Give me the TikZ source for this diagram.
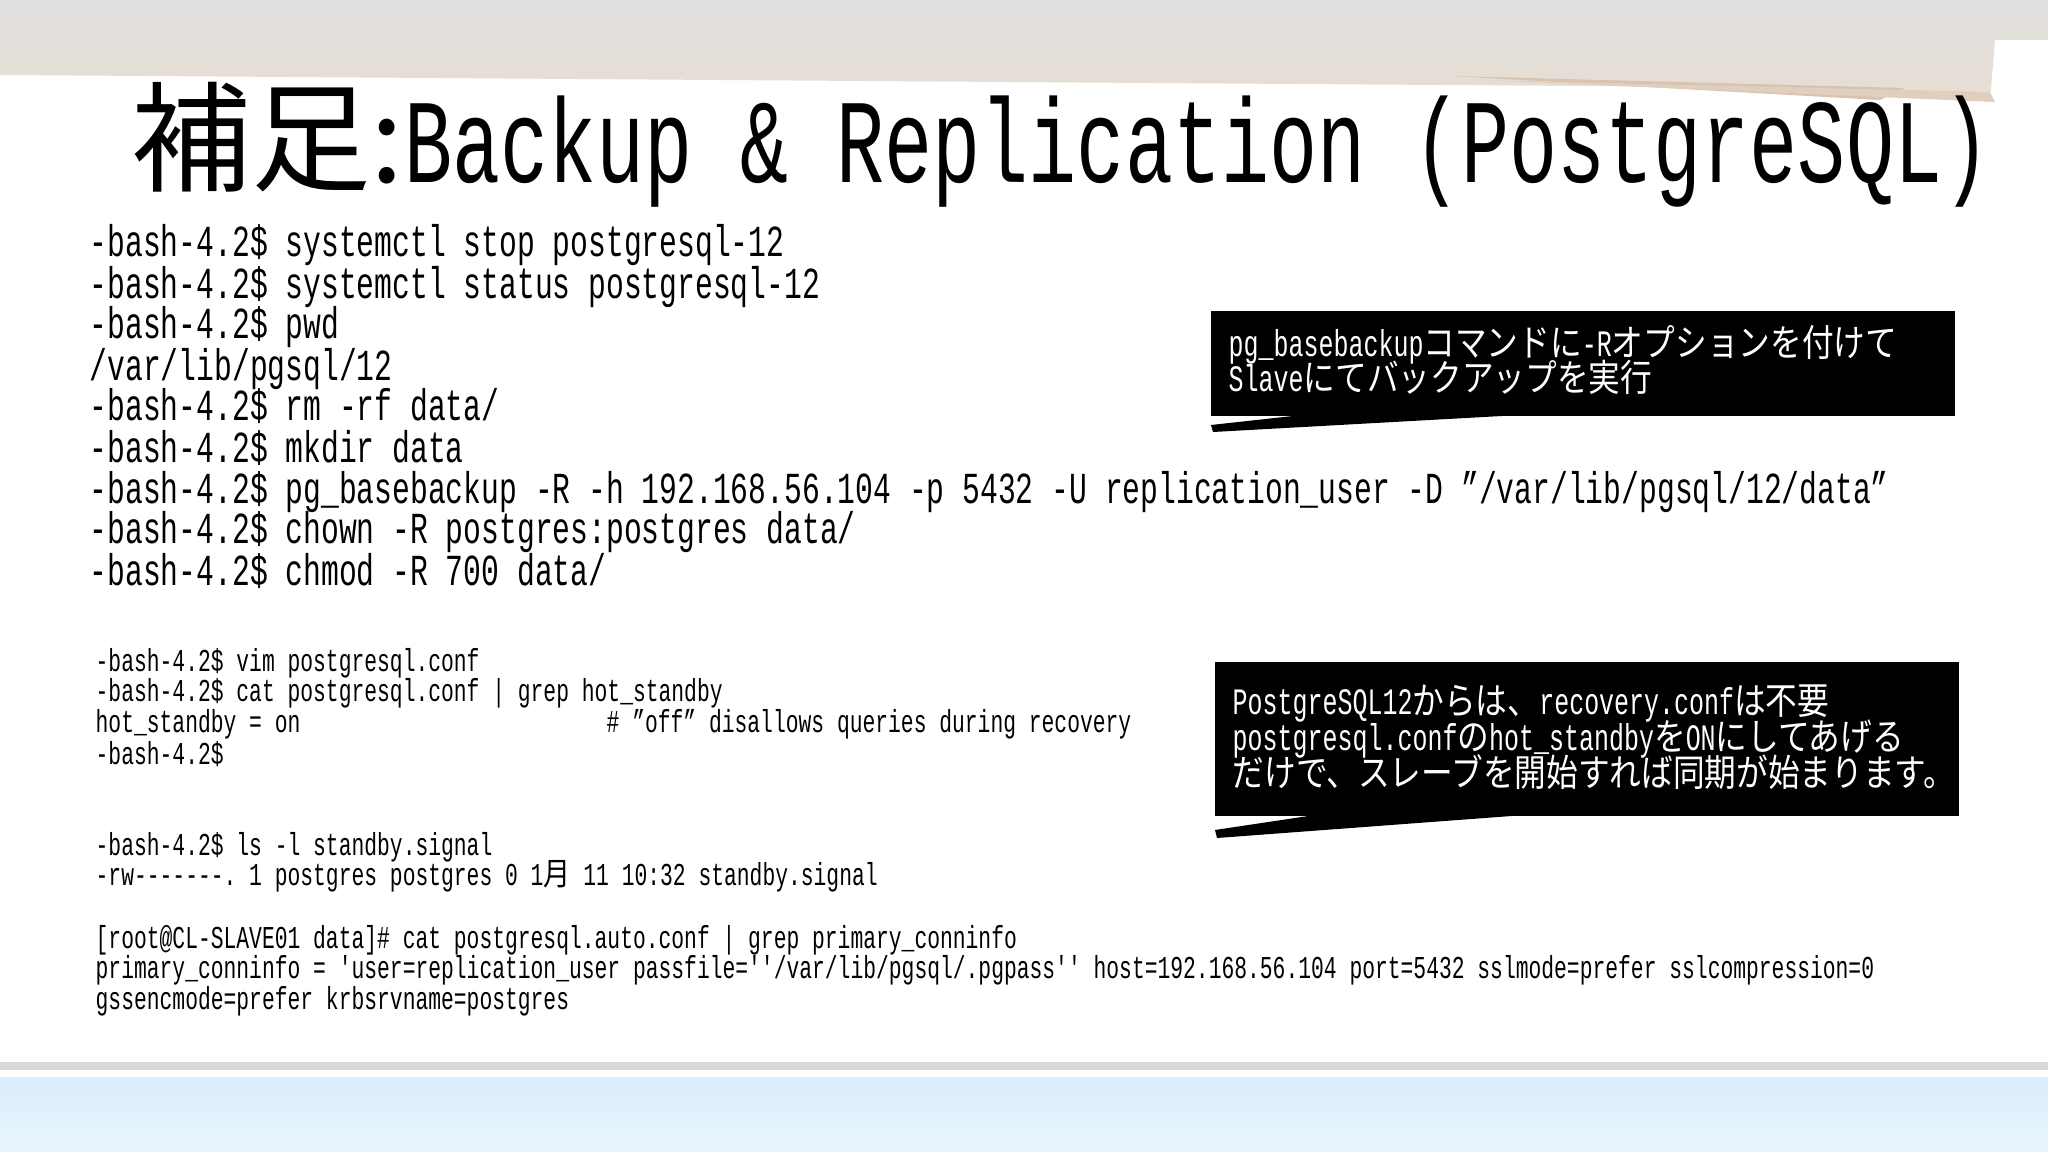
\documentclass[tikz,border=0pt]{standalone}
\usepackage{fontspec}
\setmonofont[FakeStretch=0.67]{Liberation Mono}
\newfontfamily\jp[FakeStretch=0.85]{Noto Sans CJK JP}
\newfontfamily\jpt{Noto Sans CJK JP}
\definecolor{paper}{RGB}{232,222,210}
\definecolor{paperd}{RGB}{215,195,175}
\definecolor{band}{RGB}{218,238,251}
\tikzset{
  l1/.style={anchor=base west,inner sep=0pt,font=\ttfamily\fontsize{12.6}{12.6}\selectfont},
  l2/.style={anchor=base west,inner sep=0pt,font=\ttfamily\fontsize{9.05}{9.05}\selectfont},
  lc/.style={anchor=base west,inner sep=0pt,text=white,font=\ttfamily\fontsize{10.6}{10.6}\selectfont},
  bubble/.style={fill=black,draw=none}
}
\begin{document}
\begin{tikzpicture}[x=0.01cm,y=-0.01cm]
\useasboundingbox (0,0) rectangle (2048,1152);
\fill[white] (0,0) rectangle (2048,1152);
% top paper stack
\shade[top color=gray!25,bottom color=paper] (0,0) -- (2048,0) -- (2048,40) -- (1995,40) -- (1990,100) -- (1870,88) -- (0,75) -- cycle;
\fill[paperd] (1450,76) -- (1905,88) -- (1880,100) -- cycle;
\fill[paperd!80] (1480,80) -- (1990,92) -- (1995,102) -- cycle;
% bottom band
\draw[gray!30,line width=2pt] (0,1066) -- (2048,1066);
\shade[top color=band,bottom color=band!60] (0,1077) rectangle (2048,1152);
% title
\node[anchor=base west,inner sep=0pt,font=\ttfamily\fontsize{34}{34}\selectfont] (title) at (131,183) {{\jpt 補足:}Backup \& Replication (PostgreSQL)};
% block 1
\node[l1] (a1) at (89,257) {-bash-4.2\$ systemctl stop postgresql-12};
\node[l1] (a2) at (89,299) {-bash-4.2\$ systemctl status postgresql-12};
\node[l1] (a3) at (89,339) {-bash-4.2\$ pwd};
\node[l1] (a4) at (89,381) {/var/lib/pgsql/12};
\node[l1] (a5) at (89,421) {-bash-4.2\$ rm -rf data/};
\node[l1] (a6) at (89,463) {-bash-4.2\$ mkdir data};
\node[l1] (a7) at (89,504) {-bash-4.2\$ pg\_basebackup -R -h 192.168.56.104 -p 5432 -U replication\_user -D ”/var/lib/pgsql/12/data”};
\node[l1] (a8) at (89,544) {-bash-4.2\$ chown -R postgres:postgres data/};
\node[l1] (a9) at (89,586) {-bash-4.2\$ chmod -R 700 data/};
% block 2
\node[l2] (b1) at (95,671) {-bash-4.2\$ vim postgresql.conf};
\node[l2] (b2) at (95,701) {-bash-4.2\$ cat postgresql.conf | grep hot\_standby};
\node[l2] (b3) at (95,732) {hot\_standby = on};
\node[l2] (b3b) at (606,732) {\# ”off” disallows queries during recovery};
\node[l2] (b4) at (95,764) {-bash-4.2\$};
% block 3
\node[l2] (c1) at (95,855) {-bash-4.2\$ ls -l standby.signal};
\node[l2] (c2) at (95,885) {-rw-------. 1 postgres postgres 0  1{\jp 月} 11 10:32 standby.signal};
% block 4
\node[l2] (d1) at (95,948) {[root@CL-SLAVE01 data]\# cat postgresql.auto.conf | grep primary\_conninfo};
\node[l2] (d2) at (95,978) {primary\_conninfo = 'user=replication\_user passfile=''/var/lib/pgsql/.pgpass'' host=192.168.56.104 port=5432 sslmode=prefer sslcompression=0};
\node[l2] (d3) at (95,1009) {gssencmode=prefer krbsrvname=postgres};
% callout 1
\fill[bubble] (1211,311) rectangle (1955,416);
\fill[bubble] (1302,415) -- (1211,425) -- (1213,432) -- (1520,415) -- cycle;
\node[lc] (e1) at (1228,357) {pg\_basebackup{\jp コマンドに}-R{\jp オプションを付けて}};
\node[lc] (e2) at (1228,392) {Slave{\jp にてバックアップを実行}};
% callout 2
\fill[bubble] (1215,662) rectangle (1959,816);
\fill[bubble] (1315,815) -- (1215,830) -- (1217,838) -- (1525,815) -- cycle;
\node[lc] (f1) at (1232,715) {PostgreSQL12{\jp からは、}recovery.conf{\jp は不要}};
\node[lc] (f2) at (1232,750) {postgresql.conf{\jp の}hot\_standby{\jp を}ON{\jp にしてあげる}};
\node[lc] (f3) at (1232,786) {\jp だけで、スレーブを開始すれば同期が始まります。};
\end{tikzpicture}
\end{document}
